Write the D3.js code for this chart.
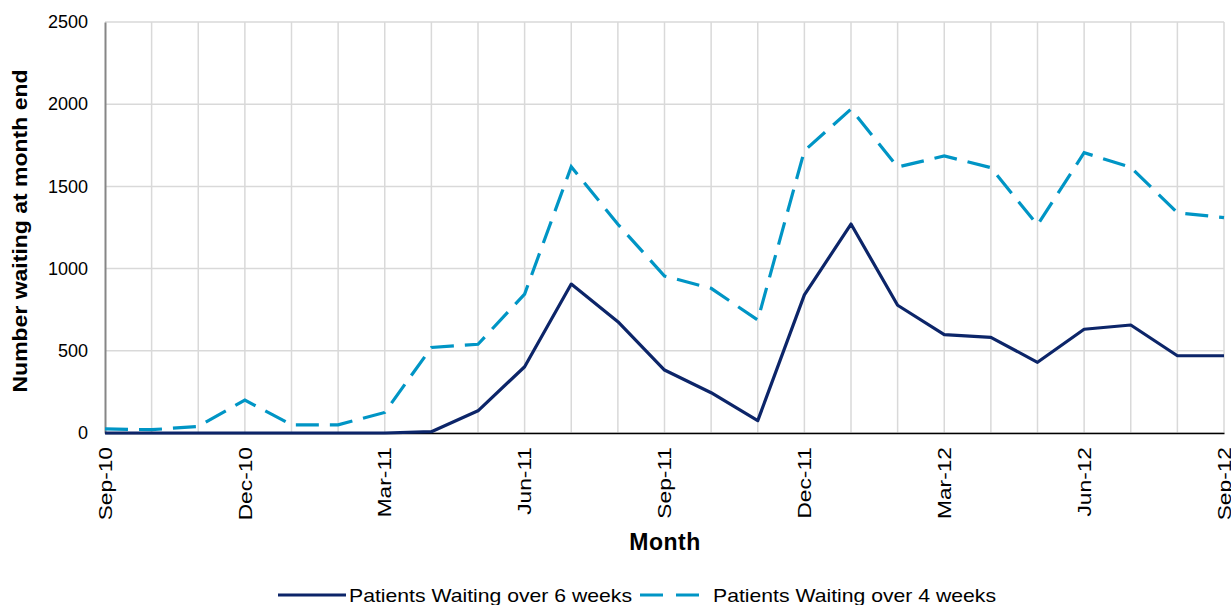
<!DOCTYPE html>
<html><head><meta charset="utf-8">
<script src="https://cdn.jsdelivr.net/npm/d3@7"></script>
<style>
body{margin:0;background:#fff;}
svg{display:block;font-family:"Liberation Sans",Arial,sans-serif;}
</style></head>
<body><svg id="c" width="1231" height="605"></svg>
<script>
const months = ["Sep-10","Oct-10","Nov-10","Dec-10","Jan-11","Feb-11","Mar-11","Apr-11","May-11","Jun-11","Jul-11","Aug-11","Sep-11","Oct-11","Nov-11","Dec-11","Jan-12","Feb-12","Mar-12","Apr-12","May-12","Jun-12","Jul-12","Aug-12","Sep-12"];
const over6 = [0,0,0,0,0,0,0,8,135,403,906,677,383,245,75,840,1271,777,598,582,430,631,657,470,470];
const over4 = [25,20,40,200,50,50,125,520,540,845,1620,1270,955,880,687,1717,1970,1618,1685,1614,1265,1705,1616,1340,1310];
const yTicks = [0,500,1000,1500,2000,2500];
const xTickLabels = ["Sep-10","Dec-10","Mar-11","Jun-11","Sep-11","Dec-11","Mar-12","Jun-12","Sep-12"];
const seriesNames = ["Patients Waiting over 6 weeks","Patients Waiting over 4 weeks"];

const svg = d3.select("#c");
const L=105, R=1224, T=22, B=433;
const x = d3.scalePoint().domain(months).range([L,R]);
const y = d3.scaleLinear().domain([0,2500]).range([B,T]);

// gridlines
svg.append("g").selectAll("line").data(yTicks).join("line")
  .attr("x1",L).attr("x2",R).attr("y1",d=>y(d)).attr("y2",d=>y(d))
  .attr("stroke","#d9d9d9").attr("stroke-width",1.5);
svg.append("g").selectAll("line").data(months.slice(1)).join("line")
  .attr("x1",d=>x(d)).attr("x2",d=>x(d)).attr("y1",T).attr("y2",B)
  .attr("stroke","#d9d9d9").attr("stroke-width",1.5);

// y axis
const ya = svg.append("g").attr("transform",`translate(${L},0)`)
  .call(d3.axisLeft(y).tickValues(yTicks).tickSize(0).tickPadding(17).tickFormat(d3.format("d")));
ya.select(".domain").attr("stroke","#868686").attr("stroke-width",2);
ya.selectAll("text").attr("font-size",18).attr("fill","#000").attr("font-family","Liberation Sans, Arial, sans-serif");

// x axis
const xa = svg.append("g").attr("transform",`translate(0,${B})`)
  .call(d3.axisBottom(x).tickValues(xTickLabels).tickSize(0).tickPadding(0));
xa.select(".domain").attr("stroke","#000").attr("stroke-width",1.5);
xa.selectAll("text")
  .attr("font-size",17.5).attr("fill","#000").attr("font-family","Liberation Sans, Arial, sans-serif")
  .attr("text-anchor","end").attr("dy","0.35em").attr("y",0).attr("x",0)
  .attr("transform","translate(0,14) rotate(-90) scale(1.3,1)");

// lines
const line = d3.line().x((d,i)=>x(months[i])).y(d=>y(d));
svg.append("path").datum(over4).attr("d",line).attr("fill","none")
  .attr("stroke","#0095c5").attr("stroke-width",3.2).attr("stroke-dasharray","23,11");
svg.append("path").datum(over6).attr("d",line).attr("fill","none")
  .attr("stroke","#0c2569").attr("stroke-width",3.2).attr("stroke-linejoin","round");

// axis titles
svg.append("text").attr("transform","translate(27,231) rotate(-90)")
  .attr("text-anchor","middle").attr("font-size",21).attr("font-weight","bold")
  .attr("textLength",323).attr("lengthAdjust","spacingAndGlyphs")
  .text("Number waiting at month end");
svg.append("text").attr("x",665).attr("y",550).attr("text-anchor","middle")
  .attr("font-size",23).attr("font-weight","bold").attr("letter-spacing",0.5).text("Month");

// legend
const lg = svg.append("g");
lg.append("line").attr("x1",278).attr("x2",346).attr("y1",595).attr("y2",595)
  .attr("stroke","#0c2569").attr("stroke-width",3.2);
lg.append("text").attr("x",349).attr("y",602).attr("font-size",19)
  .attr("textLength",283).attr("lengthAdjust","spacingAndGlyphs").text(seriesNames[0]);
lg.append("line").attr("x1",640).attr("x2",701).attr("y1",595).attr("y2",595)
  .attr("stroke","#0095c5").attr("stroke-width",3.2).attr("stroke-dasharray","23,13");
lg.append("text").attr("x",713).attr("y",602).attr("font-size",19)
  .attr("textLength",283).attr("lengthAdjust","spacingAndGlyphs").text(seriesNames[1]);
</script></body></html>
